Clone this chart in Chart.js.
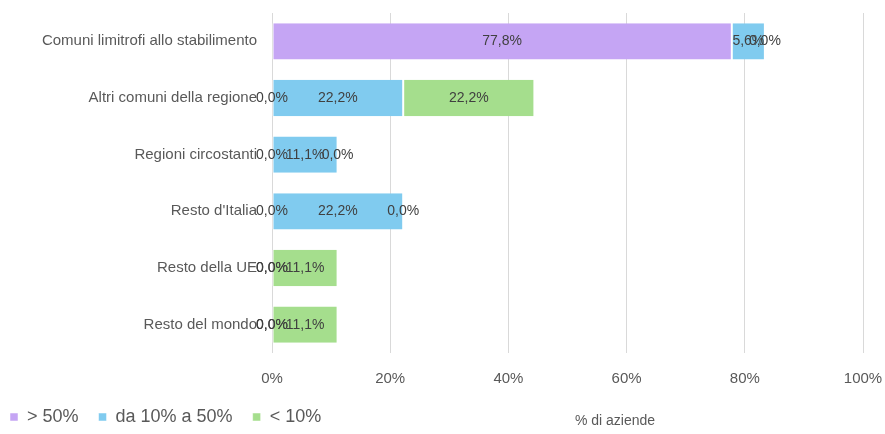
<!DOCTYPE html>
<html>
<head>
<meta charset="utf-8">
<script src="https://cdn.jsdelivr.net/npm/chart.js@4"></script>
<style>
  html, body { margin: 0; padding: 0; background: #fff; }
  #wrap { width: 885px; height: 434px; }
</style>
</head>
<body>
<div id="wrap"><canvas id="chart"></canvas></div>
<script>
'use strict';

const categories = [
  'Comuni limitrofi allo stabilimento',
  'Altri comuni della regione',
  'Regioni circostanti',
  "Resto d'Italia",
  'Resto della UE',
  'Resto del mondo',
];
const over50 = [77.8, 0.0, 0.0, 0.0, 0.0, 0.0];
const from10to50 = [5.6, 22.2, 11.1, 22.2, 0.0, 0.0];
const under10 = [0.0, 22.2, 0.0, 0.0, 11.1, 11.1];
const xTicks = [0, 20, 40, 60, 80, 100];

const FONT = "'Liberation Sans Narrow', 'Liberation Sans', Arial, sans-serif";
const pct = v => v.toFixed(1).replace('.', ',') + '%';

// labels in the middle of every segment, zeros included
const segmentLabels = {
  id: 'segmentLabels',
  afterDatasetsDraw(chart) {
    const ctx = chart.ctx;
    ctx.save();
    ctx.font = `14px ${FONT}`;
    ctx.fillStyle = '#404040';
    ctx.textAlign = 'center';
    ctx.textBaseline = 'middle';
    chart.data.datasets.forEach((ds, i) => {
      chart.getDatasetMeta(i).data.forEach((bar, j) => {
        ctx.fillText(pct(ds.data[j]), (bar.x + bar.base) / 2, bar.y);
      });
    });
    ctx.restore();
  },
};

// x-axis title sits on the legend's line
const axisTitle = {
  id: 'axisTitle',
  afterDraw(chart) {
    const ctx = chart.ctx;
    ctx.save();
    ctx.font = `14px ${FONT}`;
    ctx.fillStyle = '#595959';
    ctx.textAlign = 'center';
    ctx.textBaseline = 'middle';
    ctx.fillText('% di aziende', 615, 421);
    ctx.restore();
  },
};

const colors = ['#c5a5f4', '#80cbef', '#a5de8d'];

new Chart(document.getElementById('chart'), {
  type: 'bar',
  data: {
    labels: categories,
    datasets: [
      { label: '> 50%', data: over50 },
      { label: 'da 10% a 50%', data: from10to50 },
      { label: '< 10%', data: under10 },
    ].map((d, i) => ({
      ...d,
      backgroundColor: colors[i],
      borderColor: '#ffffff',
      borderWidth: { left: 1, right: 1, top: 0, bottom: 0 },
      borderSkipped: false,
      categoryPercentage: 0.8,
      barPercentage: 0.8,
    })),
  },
  options: {
    indexAxis: 'y',
    responsive: true,
    maintainAspectRatio: false,
    animation: false,
    layout: { padding: { top: 13, right: 22, bottom: -2, left: -10 } },
    plugins: {
      legend: {
        position: 'bottom',
        align: 'start',
        labels: {
          boxWidth: 8,
          boxHeight: 8,
          padding: 20,
          color: '#595959',
          font: { family: FONT, size: 18 },
        },
      },
      tooltip: { enabled: false },
    },
    scales: {
      x: {
        stacked: true,
        min: 0,
        max: 100,
        afterBuildTicks: scale => {
          scale.ticks = xTicks.map(v => ({ value: v }));
        },
        afterFit: scale => {
          scale.height = 35;
          scale.paddingRight = 0;
        },
        ticks: {
          color: '#595959',
          padding: 17,
          font: { family: FONT, size: 15 },
          callback: v => v + '%',
        },
        grid: { color: '#d9d9d9', drawTicks: false },
        border: { display: false },
      },
      y: {
        stacked: true,
        afterFit: scale => {
          scale.width = 282;
          scale.paddingTop = 0;
        },
        ticks: {
          color: '#595959',
          padding: 7,
          font: { family: FONT, size: 15 },
        },
        grid: { display: false },
        border: { display: false },
      },
    },
  },
  plugins: [segmentLabels, axisTitle],
});
</script>
</body>
</html>
